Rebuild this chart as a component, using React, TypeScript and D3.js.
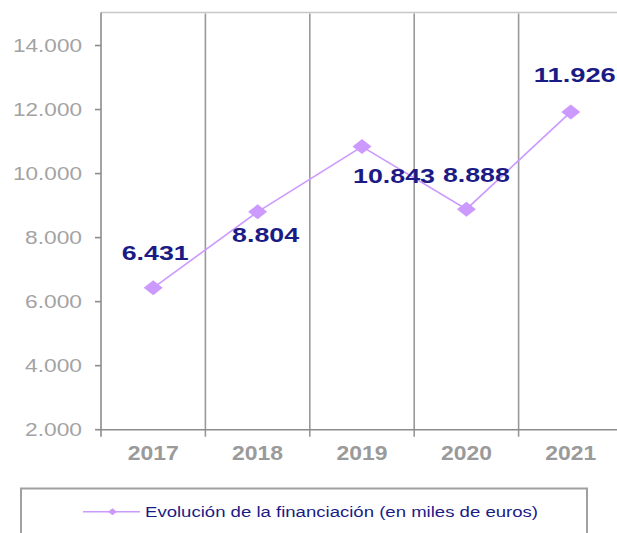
import React from "react";
import * as d3 from "d3";

const years = ["2017", "2018", "2019", "2020", "2021"];
const values = [6431, 8804, 10843, 8888, 11926];
const valueLabels = ["6.431", "8.804", "10.843", "8.888", "11.926"];
const yTicks = [2000, 4000, 6000, 8000, 10000, 12000, 14000];
const yTickLabels = ["2.000", "4.000", "6.000", "8.000", "10.000", "12.000", "14.000"];
const seriesName = "Evolución de la financiación (en miles de euros)";

// label placement offsets (layout only)
const labelOffsets: [number, number][] = [
  [2, -35],
  [8, 23],
  [32, 29],
  [10, -35],
  [4, -37],
];

const W = 617;
const H = 533;
const left = 101;
const top = 13.5;
const bottom = 429.7;
const right = 623;

export default function App() {
  const x = d3.scaleBand<string>().domain(years).range([left, right]).padding(0);
  const y = d3.scaleLinear().domain([2000, 15000]).range([bottom, top]);
  const cx = (i: number) => (x(years[i]) as number) + x.bandwidth() / 2;
  const line = d3
    .line<number>()
    .x((_, i) => cx(i))
    .y((d) => y(d));
  const purple = "#cc99ff";
  const navy = "#1b1b86";
  const axisGray = "#8c8c8c";
  const diamond = (px: number, py: number, rx: number, ry: number) =>
    `M${px - rx},${py} L${px},${py - ry} L${px + rx},${py} L${px},${py + ry} Z`;

  return (
    <svg
      width={W}
      height={H}
      style={{ position: "absolute", left: 0, top: 0, background: "#fff" }}
      fontFamily="'Liberation Sans', Arial, sans-serif"
    >
      {/* top border */}
      <line x1={left} x2={W} y1={top - 1} y2={top - 1} stroke="#c8c8c8" strokeWidth={1.5} />
      {/* vertical gridlines */}
      {years.slice(1).map((yr) => (
        <line
          key={yr}
          x1={x(yr)}
          x2={x(yr)}
          y1={top}
          y2={bottom + 7}
          stroke="#999"
          strokeWidth={1.6}
        />
      ))}
      {/* y axis */}
      <line x1={left} x2={left} y1={top - 1} y2={bottom + 7} stroke={axisGray} strokeWidth={1.6} />
      {yTicks.map((t, i) => (
        <g key={t}>
          <line x1={left - 6} x2={left} y1={y(t)} y2={y(t)} stroke={axisGray} strokeWidth={1.6} />
          <text
            x={82}
            y={y(t)}
            dy="0.35em"
            textAnchor="end"
            fontSize={18.5}
            fill="#a3a3a3"
            textLength={yTickLabels[i].length === 6 ? 69 : 57}
            lengthAdjust="spacingAndGlyphs"
          >
            {yTickLabels[i]}
          </text>
        </g>
      ))}
      {/* x axis */}
      <line x1={left} x2={W} y1={bottom} y2={bottom} stroke={axisGray} strokeWidth={1.6} />
      {years.map((yr) => (
        <text
          key={yr}
          x={cx(years.indexOf(yr))}
          y={452.7}
          dy="0.35em"
          textAnchor="middle"
          fontSize={20}
          fontWeight="bold"
          fill="#9a9a9a"
          textLength={51}
          lengthAdjust="spacingAndGlyphs"
        >
          {yr}
        </text>
      ))}
      {/* series line */}
      <path d={line(values) || ""} fill="none" stroke={purple} strokeWidth={1.6} />
      {values.map((v, i) => (
        <path key={i} d={diamond(cx(i), y(v), 9.5, 7.5)} fill={purple} />
      ))}
      {/* data labels */}
      {values.map((v, i) => (
        <text
          key={i}
          x={cx(i) + labelOffsets[i][0]}
          y={y(v) + labelOffsets[i][1]}
          dy="0.36em"
          textAnchor="middle"
          fontSize={21}
          fontWeight="bold"
          fill={navy}
          textLength={valueLabels[i].length === 6 ? 82 : 67}
          lengthAdjust="spacingAndGlyphs"
        >
          {valueLabels[i]}
        </text>
      ))}
      {/* legend */}
      <rect x={21} y={488.5} width={566} height={60} fill="none" stroke="#a0a0a0" strokeWidth={2} />
      <line x1={83} x2={140} y1={511.7} y2={511.7} stroke={purple} strokeWidth={1.6} />
      <path d={diamond(112.5, 511.7, 4.5, 3.5)} fill={purple} />
      <text
        x={145}
        y={511.7}
        dy="0.35em"
        fontSize={14}
        fill={navy}
        textLength={393}
        lengthAdjust="spacingAndGlyphs"
      >
        {seriesName}
      </text>
    </svg>
  );
}
